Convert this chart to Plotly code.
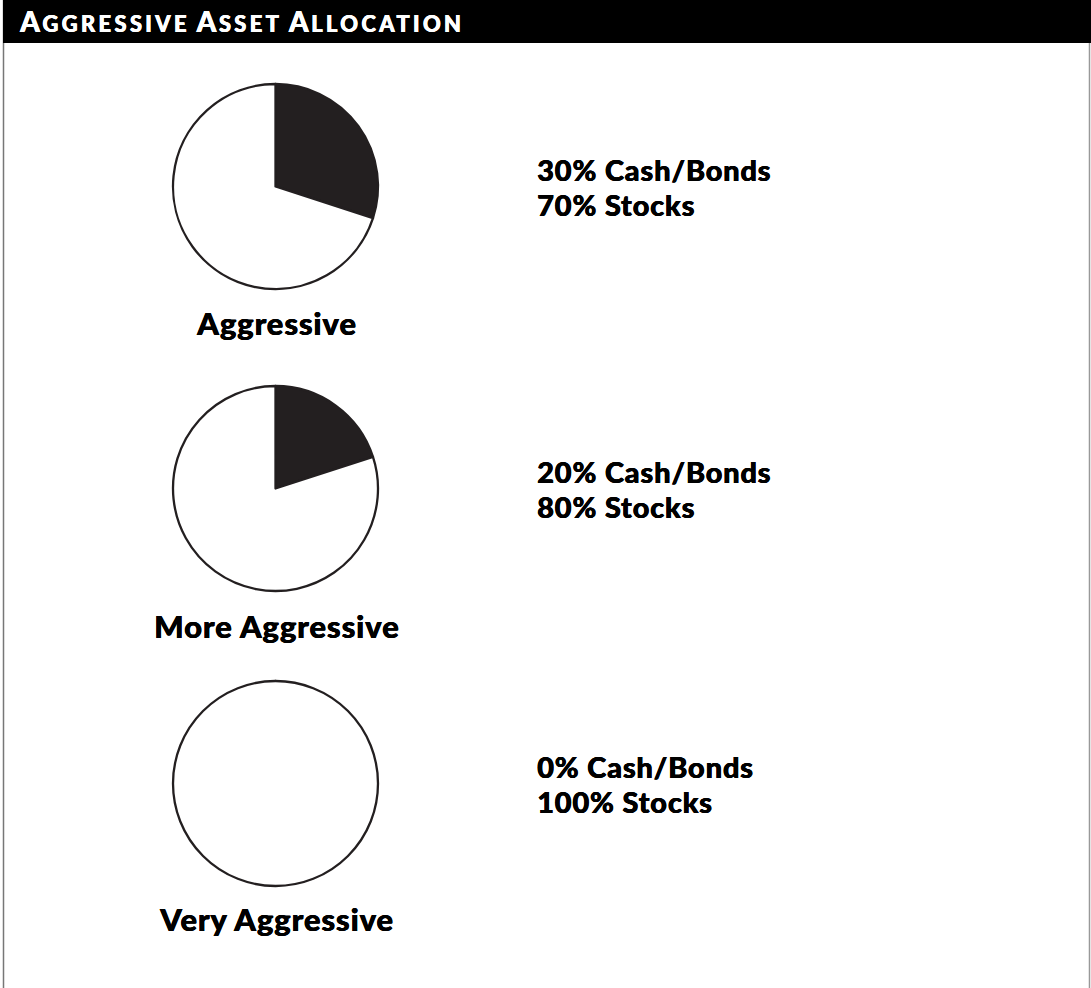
import plotly.graph_objects as go

W, H = 1091, 988

profiles = ["Aggressive", "More Aggressive", "Very Aggressive"]
cash_bonds = [30, 20, 0]
stocks = [70, 80, 100]
slice_labels = ["Cash/Bonds", "Stocks"]
title_text = "AGGRESSIVE ASSET ALLOCATION"

centers_y = [186.5, 488.5, 783.5]
center_x = 275.5
R = 102.5

def px(x):
    return x / W

def py(y):
    return 1 - y / H

FONT = "Lato"
DARK = "#231f20"
SHADOW_K = "0.5px 0 0 #000, 0 0.3px 0 #000"
SHADOW_W = "0.5px 0 0 #fff, 0 0.3px 0 #fff"

fig = go.Figure()

for i, name in enumerate(profiles):
    cy = centers_y[i]
    fig.add_trace(go.Pie(
        labels=slice_labels,
        values=[cash_bonds[i], stocks[i]],
        sort=False,
        direction="clockwise",
        rotation=0,
        textinfo="none",
        hoverinfo="label+percent",
        marker=dict(colors=[DARK, "#ffffff"], line=dict(color=DARK, width=2.3)),
        domain=dict(x=[px(center_x - R), px(center_x + R)],
                    y=[py(cy + R), py(cy - R)]),
        showlegend=False,
        name=name,
    ))

annotations = []
label_y = [323, 626, 919]
for i, name in enumerate(profiles):
    annotations.append(dict(
        x=px(center_x + 0.5), y=py(label_y[i]), xref="paper", yref="paper",
        text=f"<span style='letter-spacing:0.9px'>{name}</span>", showarrow=False,
        xanchor="center", yanchor="middle",
        font=dict(family=FONT, size=31, weight=900, color="#000000", shadow=SHADOW_K),
    ))
    base = centers_y[i] - 17
    annotations.append(dict(
        x=px(535), y=py(base), xref="paper", yref="paper",
        text=f"<span style='letter-spacing:0.8px'>{cash_bonds[i]}% {slice_labels[0]}</span>",
        showarrow=False, xanchor="left", yanchor="middle",
        font=dict(family=FONT, size=29, weight=900, color="#000000", shadow=SHADOW_K),
    ))
    annotations.append(dict(
        x=px(535), y=py(base + 35), xref="paper", yref="paper",
        text=f"<span style='letter-spacing:0.8px'>{stocks[i]}% {slice_labels[1]}</span>",
        showarrow=False, xanchor="left", yanchor="middle",
        font=dict(family=FONT, size=29, weight=900, color="#000000", shadow=SHADOW_K),
    ))

def small_caps(t, small=22):
    out = []
    for word in t.split(" "):
        out.append(f"<span style='letter-spacing:2.6px'>{word[0]}</span>"
                   f"<span style='font-size:{small}px;letter-spacing:3.3px'>{word[1:]}</span>")
    return " ".join(out)

annotations.append(dict(
    x=px(17), y=py(21), xref="paper", yref="paper",
    text=small_caps(title_text), showarrow=False,
    xanchor="left", yanchor="middle",
    font=dict(family=FONT, size=28, weight=900, color="#ffffff", shadow=SHADOW_W),
))

shapes = [
    dict(type="line", xref="paper", yref="paper", x0=px(3.5), x1=px(3.5), y0=0, y1=1,
         line=dict(color="#777777", width=1.5)),
    dict(type="line", xref="paper", yref="paper", x0=px(1089.5), x1=px(1089.5), y0=0, y1=1,
         line=dict(color="#999999", width=1.5)),
    dict(type="rect", xref="paper", yref="paper", x0=px(3), x1=1, y0=py(43), y1=1,
         fillcolor="#000000", line=dict(width=0), layer="above"),
]

fig.update_layout(
    width=W, height=H,
    margin=dict(l=0, r=0, t=0, b=0),
    paper_bgcolor="#ffffff", plot_bgcolor="#ffffff",
    annotations=annotations, shapes=shapes,
)

fig.write_html("out.html", config={"displayModeBar": False},
               post_script="document.body.style.margin='0';document.body.style.overflow='hidden';")
